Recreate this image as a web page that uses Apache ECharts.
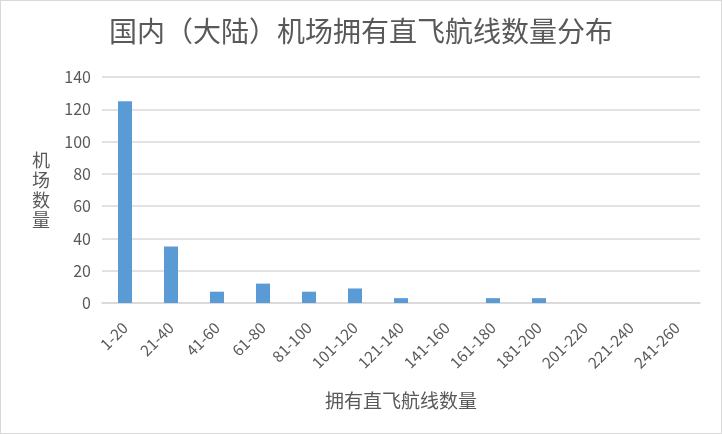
<!DOCTYPE html>
<html><head><meta charset="utf-8">
<script src="https://cdn.jsdelivr.net/npm/echarts@6/dist/echarts.min.js"></script>
<style>
html,body{margin:0;padding:0;background:#fff;}
#c{position:absolute;left:0;top:0;width:720px;height:432px;border:1px solid #d9d9d9;}
</style></head>
<body><div id="c"></div>
<script>
const categories = ['1-20','21-40','41-60','61-80','81-100','101-120','121-140','141-160','161-180','181-200','201-220','221-240','241-260'];
const airportCounts = [125, 35, 7, 12, 7, 9, 3, 0, 3, 3, 0, 0, 0];
const titleText = '国内（大陆）机场拥有直飞航线数量分布';
const xName = '拥有直飞航线数量';
const yName = '机场数量';

const chart = echarts.init(document.getElementById('c'));
const font = '"Noto Sans CJK SC", "Noto Sans", sans-serif';
chart.setOption({
  animation: false,
  textStyle: {fontFamily: font},
  title: {
    text: titleText, left: 'center', top: 11,
    textStyle: {fontSize: 28, fontWeight: 'normal', color: '#595959', fontFamily: font}
  },
  grid: {left: 101, right: 21, top: 76, bottom: 130},
  xAxis: {
    type: 'category', data: categories,
    name: xName, nameLocation: 'middle', nameGap: 88,
    nameTextStyle: {fontSize: 19, color: '#595959'},
    axisLine: {lineStyle: {color: '#d9d9d9', width: 1.5}},
    axisTick: {show: false},
    axisLabel: {rotate: 45, fontSize: 15.5, color: '#595959', interval: 0, margin: 22}
  },
  yAxis: {
    type: 'value', min: 0, max: 140, interval: 20,
    name: yName.split('').join('\n'), nameLocation: 'middle', nameRotate: 0, nameGap: 52,
    nameTextStyle: {fontSize: 18, color: '#595959', lineHeight: 20},
    axisLine: {show: false}, axisTick: {show: false},
    axisLabel: {fontSize: 16, color: '#595959', margin: 11},
    splitLine: {lineStyle: {color: '#d9d9d9', width: 1.5}}
  },
  series: [{
    type: 'bar', data: airportCounts, barWidth: 14,
    itemStyle: {color: '#5b9bd5'}
  }]
});
</script></body></html>
